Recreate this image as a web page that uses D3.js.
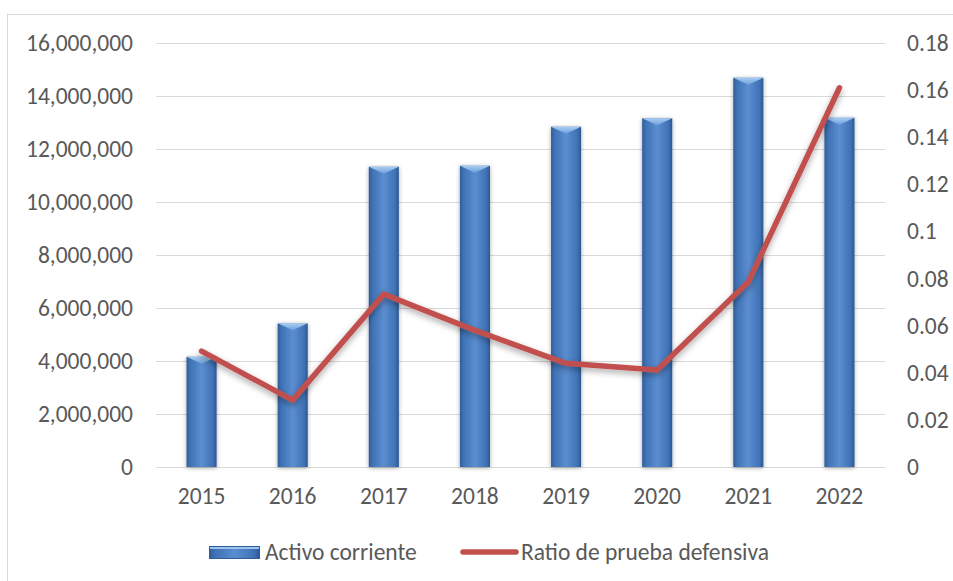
<!DOCTYPE html>
<html><head><meta charset="utf-8">
<script src="https://cdn.jsdelivr.net/npm/d3@7"></script>
<style>body{margin:0;background:#fff}svg{display:block}</style>
</head><body>
<svg id="c" width="953" height="581"></svg>
<script>
const years = ["2015","2016","2017","2018","2019","2020","2021","2022"];
const activo = [4160000, 5420000, 11330000, 11370000, 12840000, 13160000, 14690000, 13180000];
const ratio = [0.0492, 0.0284, 0.0734, 0.058, 0.044, 0.0412, 0.0785, 0.161];
const leftTicks = [0, 2000000, 4000000, 6000000, 8000000, 10000000, 12000000, 14000000, 16000000];
const rightTicks = [0, 0.02, 0.04, 0.06, 0.08, 0.1, 0.12, 0.14, 0.16, 0.18];

const svg = d3.select("#c");
const font = "Carlito, Calibri, 'Open Sans', sans-serif";
const fs = 23.5;
const textColor = "#595959";

const defs = svg.append("defs");
const g1 = defs.append("linearGradient").attr("id","barG").attr("x1","0").attr("x2","1").attr("y1","0").attr("y2","0");
[[0,"#2f5d97"],[0.12,"#3f72b5"],[0.5,"#5b8ed0"],[0.88,"#3f72b5"],[1,"#2b5690"]].forEach(([o,c])=>g1.append("stop").attr("offset",o).attr("stop-color",c));
const g2 = defs.append("linearGradient").attr("id","bevG").attr("x1","0").attr("x2","0").attr("y1","0").attr("y2","1");
[[0,"#a9cdf2"],[1,"#6c9fdc"]].forEach(([o,c])=>g2.append("stop").attr("offset",o).attr("stop-color",c));
const sh = defs.append("filter").attr("id","sh").attr("x","-30%").attr("y","-10%").attr("width","160%").attr("height","120%");
sh.append("feDropShadow").attr("dx",0).attr("dy",1).attr("stdDeviation",2.2).attr("flood-color","#000").attr("flood-opacity",0.35);
const lsh = defs.append("filter").attr("id","lsh").attr("x","-10%").attr("y","-10%").attr("width","120%").attr("height","130%");
lsh.append("feDropShadow").attr("dx",0).attr("dy",3).attr("stdDeviation",3).attr("flood-color","#000").attr("flood-opacity",0.35);

// frame
svg.append("rect").attr("x",7.5).attr("y",14.5).attr("width",960).attr("height",600)
  .attr("fill","#fff").attr("stroke","#d9d9d9").attr("stroke-width",1);

const x = d3.scaleBand().domain(years).range([156,885]).paddingInner(0.67).paddingOuter(0.335);
const yL = d3.scaleLinear().domain([0,16000000]).range([467,43]);
const yR = d3.scaleLinear().domain([0,0.18]).range([467,43]);

// gridlines
svg.append("g").selectAll("line").data(leftTicks).join("line")
  .attr("x1",156).attr("x2",885).attr("y1",d=>yL(d)+0.5).attr("y2",d=>yL(d)+0.5)
  .attr("stroke","#d9d9d9").attr("stroke-width",1);

// left axis
const axL = svg.append("g").attr("transform","translate(156,0)")
  .call(d3.axisLeft(yL).tickValues(leftTicks).tickFormat(d3.format(",")).tickSize(0).tickPadding(23));
axL.select(".domain").remove();
axL.selectAll("text").attr("font-family",font).attr("font-size",fs).attr("fill",textColor);

// right axis
const axR = svg.append("g").attr("transform","translate(885,0)")
  .call(d3.axisRight(yR).tickValues(rightTicks).tickFormat(d=>String(+d.toFixed(2))).tickSize(0).tickPadding(22));
axR.select(".domain").remove();
axR.selectAll("text").attr("font-family",font).attr("font-size",fs).attr("fill",textColor);

// bottom axis
const axB = svg.append("g").attr("transform","translate(0,467)")
  .call(d3.axisBottom(x).tickSize(0).tickPadding(20));
axB.select(".domain").attr("stroke","#d9d9d9");
axB.selectAll("text").attr("font-family",font).attr("font-size",fs).attr("fill",textColor);

// bars
const bars = svg.append("g").selectAll("g").data(years).join("g").attr("filter","url(#sh)");
bars.append("rect").attr("x",d=>x(d)).attr("width",x.bandwidth())
  .attr("y",(d,i)=>yL(activo[i])).attr("height",(d,i)=>yL(0)-yL(activo[i]))
  .attr("fill","url(#barG)");
bars.append("path").attr("d",(d,i)=>{
  const x0=x(d), w=x.bandwidth(), y0=yL(activo[i]), b=Math.min(7,w/2);
  return `M${x0},${y0}L${x0+w},${y0}L${x0+w/2},${y0+b}Z`;
}).attr("fill","url(#bevG)");

// line
const line = d3.line().x((d,i)=>x(years[i])+x.bandwidth()/2).y(d=>yR(d));
svg.append("path").datum(ratio).attr("d",line).attr("fill","none")
  .attr("stroke","#c0504d").attr("stroke-width",5.5).attr("stroke-linecap","round").attr("stroke-linejoin","round")
  .attr("filter","url(#lsh)");

// legend
const leg = svg.append("g");
leg.append("rect").attr("x",209).attr("y",546).attr("width",51).attr("height",13).attr("fill","url(#barG)");
leg.append("rect").attr("x",209).attr("y",546).attr("width",51).attr("height",3).attr("fill","#9cc3ee");
leg.append("rect").attr("x",209.5).attr("y",546.5).attr("width",50).attr("height",12).attr("fill","none").attr("stroke","#2f5d97").attr("stroke-width",1);
leg.append("text").attr("x",265).attr("y",552).attr("dy","0.35em").text("Activo corriente")
  .attr("font-family",font).attr("font-size",fs).attr("fill",textColor);
leg.append("line").attr("x1",463).attr("x2",516).attr("y1",552).attr("y2",552)
  .attr("stroke","#c0504d").attr("stroke-width",5.5).attr("stroke-linecap","round");
leg.append("text").attr("x",521).attr("y",552).attr("dy","0.35em").text("Ratio de prueba defensiva")
  .attr("font-family",font).attr("font-size",fs).attr("fill",textColor);
</script>
</body></html>
